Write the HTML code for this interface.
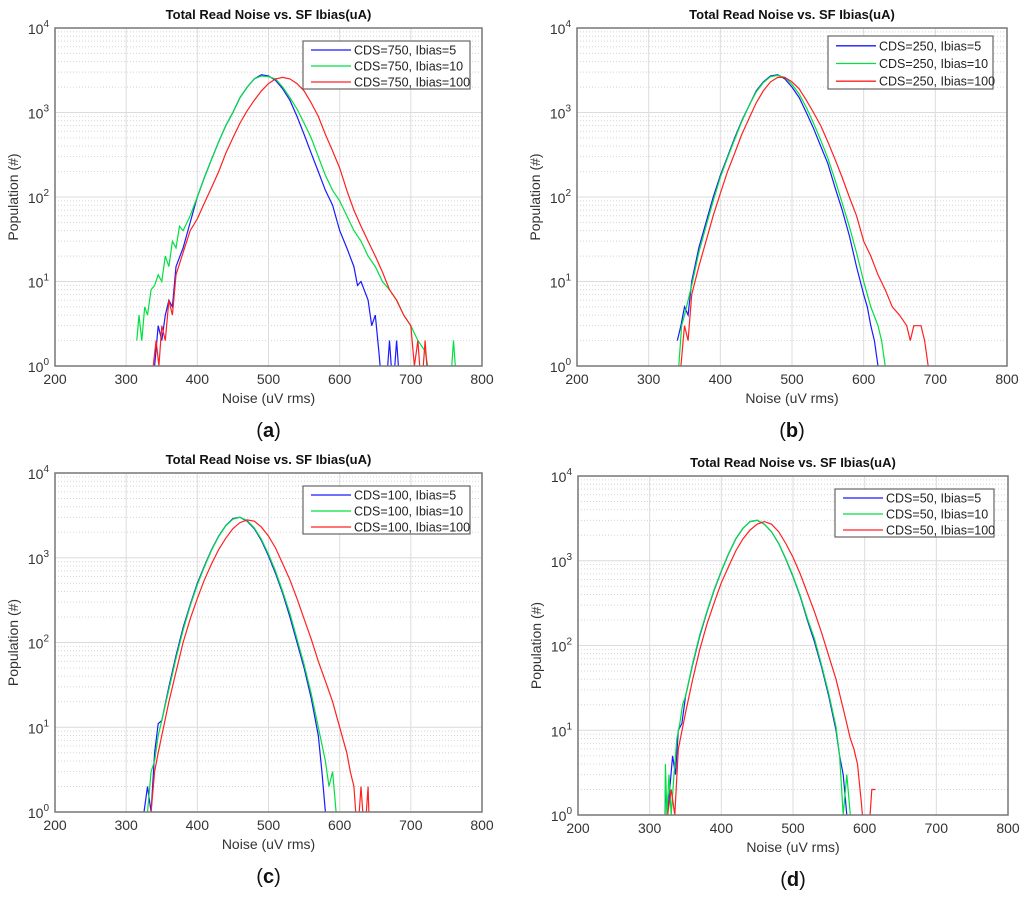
<!DOCTYPE html>
<html><head><meta charset="utf-8"><style>
body{margin:0;background:#fff;width:1024px;height:895px;overflow:hidden;font-family:"Liberation Sans",Arial,sans-serif}
svg text{font-family:"Liberation Sans",Arial,sans-serif}
</style></head><body>
<svg id="fig" width="1024" height="895" viewBox="0 0 1024 895" xmlns="http://www.w3.org/2000/svg"></svg>
<script>
// ---- data (x in uV rms, y population; 0.5 = empty bin, drawn below axis) ----
const xA_blue=[338,340,345,350,355,360,365,370,380,390,400,410,420,430,440,450,460,470,480,490,500,510,520,530,540,550,560,570,580,590,600,610,620,625,630,640,645,650,655,660,665,670,675,680,685];
const yA_blue=[0.5,1,3,2,4,6,5,15,25,50,100,170,280,450,700,1000,1500,2000,2500,2800,2700,2400,1900,1400,900,550,330,200,120,80,40,25,15,9,10,6,3,4,1.5,0.5,0.5,2,0.5,2,0.5];
const xA_green=[315,318,322,326,330,335,340,345,350,355,360,365,370,375,380,390,400,410,420,430,440,450,460,470,480,490,500,510,520,530,540,550,560,570,580,590,600,610,620,630,640,650,660,670,680,690,700,710,720,730,755,760,765];
const yA_green=[2,4,2,5,4,8,9,12,10,20,15,30,25,45,40,60,100,170,280,450,700,1000,1500,2000,2500,2700,2650,2500,2000,1500,1100,750,500,300,180,120,90,60,40,30,20,15,10,8,6,4,3,2,1.5,0.5,0.5,2,0.5];
const xA_red=[336,338,342,346,350,355,360,365,370,380,390,400,410,420,430,440,450,460,470,480,490,500,510,520,530,540,550,560,570,580,590,600,610,620,630,640,650,660,670,680,690,700,705,710,715,720,725];
const yA_red=[0.5,1,2,1,3,2,6,4,12,22,40,55,85,130,200,330,500,750,1050,1400,1800,2200,2500,2600,2500,2200,1800,1300,900,550,350,220,120,70,45,30,20,13,8,6,4,3,1,2,0.5,2,0.5];
const xB_blue=[340,345,350,355,360,370,380,390,400,410,420,430,440,450,460,470,480,490,500,510,520,530,540,550,560,570,580,590,600,605,610,615,620,622];
const yB_blue=[2,3,5,4,10,25,50,100,180,300,500,800,1200,1800,2300,2700,2800,2500,2000,1500,1000,650,400,250,130,70,35,15,7,5,3,2,1,0.5];
const xB_green=[342,346,350,355,360,370,380,390,400,410,420,430,440,450,460,470,480,490,500,510,520,530,540,550,560,570,580,590,600,610,620,625,630,633];
const yB_green=[1,3,4,6,9,22,45,90,170,290,480,780,1200,1750,2250,2650,2750,2600,2150,1650,1150,750,470,290,160,85,45,22,10,5,3,2,1,0.5];
const xB_red=[344,345,350,355,360,370,380,390,400,410,420,430,440,450,460,470,480,490,500,510,520,530,540,550,560,570,580,590,600,610,620,630,640,650,660,665,670,680,685,690,692];
const yB_red=[0.5,1,3,2,7,15,30,60,110,200,330,550,850,1300,1800,2300,2600,2600,2300,1900,1400,1000,700,450,280,170,100,60,30,20,12,8,5,4,3,2,3,3,2,1,0.5];
const xC_blue=[323,325,330,335,340,345,350,360,370,380,390,400,410,420,430,440,450,460,470,480,490,500,510,520,530,540,550,560,570,575,580,582];
const yC_blue=[0.5,1,2,1,5,11,12,30,70,150,280,500,800,1250,1800,2400,2900,3000,2700,2200,1600,1050,650,380,200,100,50,22,8,3,1,0.5];
const xC_green=[328,330,335,340,345,350,360,370,380,390,400,410,420,430,440,450,460,470,480,490,500,510,520,530,540,550,560,570,580,585,590,595,597];
const yC_green=[0.5,1,3,4,8,12,28,65,140,270,480,780,1230,1780,2380,2850,3000,2750,2250,1650,1100,690,400,220,110,55,25,10,4,2,3,1,0.5];
const xC_red=[333,335,340,345,350,360,370,380,390,400,410,420,430,440,450,460,470,480,490,500,510,520,530,540,550,560,570,580,590,600,610,615,620,625,630,635,640,642];
const yC_red=[0.5,1,3,5,8,20,45,100,190,330,550,850,1250,1700,2200,2600,2800,2700,2300,1800,1300,850,550,330,190,110,60,35,20,10,5,3,2,0.5,2,0.5,2,0.5];
const xD_blue=[321,322,325,328,332,336,340,345,350,360,370,380,390,400,410,420,430,440,450,460,470,480,490,500,510,520,530,540,550,560,565,570,575,577];
const yD_blue=[0.5,2,1,2,5,3,10,12,25,60,130,250,450,750,1200,1800,2400,2900,3000,2700,2200,1600,1050,650,380,200,110,55,25,10,5,3,1,0.5];
const xD_green=[321,322,324,327,330,334,338,342,346,350,360,370,380,390,400,410,420,430,440,450,460,470,480,490,500,510,520,530,540,550,560,565,570,575,580,582];
const yD_green=[0.5,4,1,3,1,3,8,12,20,25,62,135,255,460,760,1210,1810,2400,2900,3000,2700,2200,1600,1060,660,390,210,120,58,27,11,5,1,3,1,0.5];
const xD_red=[324,325,330,335,340,350,360,370,380,390,400,410,420,430,440,450,460,470,480,490,500,510,520,530,540,550,560,570,580,585,590,595,600,605,610,615];
const yD_red=[0.5,1,2,1,6,16,40,90,180,320,550,850,1300,1800,2300,2700,2900,2700,2200,1600,1100,700,420,250,140,75,40,18,8,6,4,1.5,0.5,0.5,2,2];
const xTicks=[200,300,400,500,600,700,800];
const yDecades=[0,1,2,3,4];

const panels=[
 {id:'a',L:55,R:482,T:28,B:366,cds:750,series:[[xA_blue,yA_blue],[xA_green,yA_green],[xA_red,yA_red]],leg:[303,41,470,89]},
 {id:'b',L:577,R:1007,T:28,B:366,cds:250,series:[[xB_blue,yB_blue],[xB_green,yB_green],[xB_red,yB_red]],leg:[828,36,993,89]},
 {id:'c',L:55,R:482,T:473,B:812,cds:100,series:[[xC_blue,yC_blue],[xC_green,yC_green],[xC_red,yC_red]],leg:[303,486,470,534]},
 {id:'d',L:578,R:1008,T:476,B:815,cds:50,series:[[xD_blue,yD_blue],[xD_green,yD_green],[xD_red,yD_red]],leg:[835,489,994,537]}
];
const colors=['#1a1aff','#00e040','#ff2020'];
const ibias=[5,10,100];
const NS='http://www.w3.org/2000/svg';
const svg=document.getElementById('fig');
function mk(tag,attrs,parent){const e=document.createElementNS(NS,tag);for(const k in attrs)e.setAttribute(k,attrs[k]);(parent||svg).appendChild(e);return e;}

panels.forEach(p=>{
 const g=mk('g',{});
 
 
 const sx=v=>p.L+(v-200)/600*(p.R-p.L);
 const sy=v=>p.B-Math.log10(v)/4*(p.B-p.T);
 yDecades.slice(0,4).forEach(d=>{for(let m=2;m<10;m++){const y=sy(m*Math.pow(10,d));
  const l=mk('line',{x1:p.L,x2:p.R,y1:y,y2:y,stroke:'#d4d4d4','stroke-width':1,'stroke-dasharray':'1,2'},g);
  
  }});
 yDecades.forEach(d=>{const y=sy(Math.pow(10,d));
  const l=mk('line',{x1:p.L,x2:p.R,y1:y,y2:y,stroke:'#dcdcdc','stroke-width':1},g);
  
  
  const t=mk('text',{x:p.L-6,y:y+6,'text-anchor':'end','font-size':14,fill:'#333'},g);
  t.textContent='10';
  
  
  const s=mk('tspan',{dy:-7,'font-size':10},t);s.textContent=String(d);});
 xTicks.forEach(v=>{const x=sx(v);
  const l=mk('line',{x1:x,x2:x,y1:p.T,y2:p.B,stroke:'#dcdcdc','stroke-width':1},g);
  
  
  const t=mk('text',{x:x,y:p.B+18,'text-anchor':'middle','font-size':14,fill:'#333'},g);
  t.textContent=v;
  
  });
 const cp=mk('clipPath',{id:'clip'+p.id},g);mk('rect',{x:p.L,y:p.T,width:p.R-p.L,height:p.B-p.T},cp);
 p.series.forEach((s,i)=>{
  const pts=s[0].map((x,k)=>sx(x).toFixed(1)+','+sy(s[1][k]).toFixed(1)).join(' ');
  const pl=mk('polyline',{points:pts,fill:'none',stroke:colors[i],'stroke-width':1.2,'clip-path':'url(#clip'+p.id+')'},g);
  
  
 });
 const box=mk('rect',{x:p.L,y:p.T,width:p.R-p.L,height:p.B-p.T,fill:'none',stroke:'#777','stroke-width':1.5},g);
 
 
 const ti=mk('text',{x:(p.L+p.R)/2,y:p.T-9,'text-anchor':'middle','font-size':13,'font-weight':'bold',fill:'#111'},g);
 ti.textContent='Total Read Noise vs. SF Ibias(uA)';
 
 
 const xt=mk('text',{x:(p.L+p.R)/2,y:p.B+37,'text-anchor':'middle','font-size':14,fill:'#333'},g);
 xt.textContent='Noise (uV rms)';
 
 
 const cy=(p.T+p.B)/2;
 const yt=mk('text',{x:p.L-37,y:cy,'text-anchor':'middle','font-size':14,fill:'#333',transform:'rotate(-90 '+(p.L-37)+' '+cy+')'},g);
 yt.textContent='Population (#)';
 
 
 const [lx1,ly1,lx2,ly2]=p.leg;
 const lg=mk('g',{},g);
 
 
 mk('rect',{x:lx1,y:ly1,width:lx2-lx1,height:ly2-ly1,fill:'#fff',stroke:'#666','stroke-width':1.2},lg);
 const rh=(ly2-ly1)/3;
 ibias.forEach((b,i)=>{const y=ly1+rh*(i+0.5)+1;
  const e=mk('g',{},lg);
  
  
  mk('line',{x1:lx1+8,x2:lx1+48,y1:y,y2:y,stroke:colors[i],'stroke-width':1.3},e);
  const t=mk('text',{x:lx1+51,y:y+4.5,'font-size':12.5,fill:'#222'},e);
  t.textContent='CDS='+p.cds+', Ibias='+b;});
 const lab=mk('text',{x:(p.L+p.R)/2,y:p.B+71,'text-anchor':'middle','font-size':20,fill:'#111','font-family':'Liberation Serif, serif'},g);
 lab.textContent='(';
 
 
 const bb=mk('tspan',{'font-weight':'bold'},lab);bb.textContent=p.id;
 const cl=mk('tspan',{},lab);cl.textContent=')';
});
</script>
</body></html>
